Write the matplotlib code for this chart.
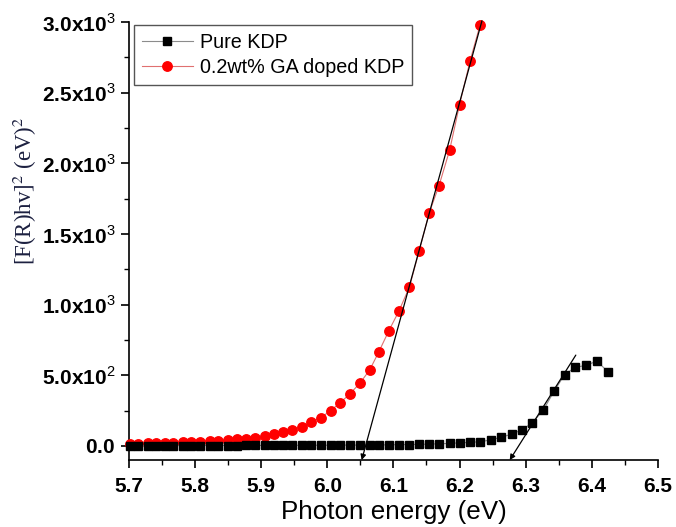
import matplotlib
matplotlib.use('Agg')
import matplotlib.pyplot as plt
from matplotlib.ticker import FixedLocator, MultipleLocator, FuncFormatter

plt.rcParams['font.family'] = ['Liberation Sans', 'DejaVu Sans']
plt.rcParams['mathtext.fontset'] = 'custom'
plt.rcParams['mathtext.rm'] = 'Liberation Sans'
plt.rcParams['mathtext.bf'] = 'Liberation Sans:bold'

# photon energy grid (eV), shared by both samples
energy = [5.701, 5.714, 5.728, 5.741, 5.754, 5.767, 5.781, 5.794, 5.808, 5.822,
          5.835, 5.849, 5.863, 5.877, 5.891, 5.905, 5.919, 5.933, 5.947, 5.962,
          5.976, 5.990, 6.005, 6.019, 6.034, 6.049, 6.064, 6.078, 6.093, 6.108,
          6.124, 6.139, 6.154, 6.169, 6.185, 6.200, 6.216, 6.231, 6.247, 6.263,
          6.279, 6.294, 6.310, 6.327, 6.343, 6.359, 6.375, 6.392, 6.408, 6.425]

# [F(R)hv]^2 for pure KDP (all 50 energies)
pure_kdp = [2, 2, 2, 2, 2, 3, 3, 3, 3, 3,
            3, 3, 3, 4, 4, 4, 4, 4, 4, 5,
            5, 5, 5, 6, 6, 6, 7, 7, 8, 9,
            10, 11, 13, 15, 18, 22, 25, 30, 42, 62,
            83, 113, 163, 255, 387, 504, 556, 571, 601, 523]

# [F(R)hv]^2 for 0.2wt% GA doped KDP (first 38 energies)
doped_kdp = [14, 16, 19, 21, 21, 24, 26, 28, 31, 35,
             38, 42, 47, 52, 59, 68, 82, 97, 116, 137,
             168, 200, 250, 304, 368, 443, 537, 667, 815, 952,
             1122, 1381, 1648, 1843, 2093, 2414, 2727, 2977]

# linear fits extrapolated to the energy axis: (top end), (intercept)
fit_doped = [(6.234, 3010), (6.052, -100)]
fit_pure = [(6.376, 643), (6.276, -100)]

fig = plt.figure(figsize=(6.76, 5.27), dpi=100)
ax = fig.add_axes([0.191, 0.127, 0.782, 0.831])

ax.plot(energy, pure_kdp, color='#8c8c8c', lw=0.8, marker='s', ms=5.6,
        mfc='black', mec='black', label='Pure KDP', clip_on=False, zorder=4)
ax.plot(energy[:len(doped_kdp)], doped_kdp, color='#e07070', lw=0.8, marker='o',
        ms=6.8, mfc='red', mec='red', label='0.2wt% GA doped KDP',
        clip_on=False, zorder=3)

for top, bottom in (fit_doped, fit_pure):
    ax.annotate('', xy=bottom, xytext=top, annotation_clip=False,
                arrowprops=dict(arrowstyle='-|>', color='black', lw=0.9,
                                mutation_scale=8, shrinkA=0, shrinkB=0),
                zorder=5)

ax.set_xlim(5.7, 6.5)
ax.set_ylim(-100, 3000)

for side in ('top', 'right'):
    ax.spines[side].set_visible(False)
for side in ('left', 'bottom'):
    ax.spines[side].set_linewidth(1.2)

ax.xaxis.set_major_locator(MultipleLocator(0.1))
ax.xaxis.set_minor_locator(MultipleLocator(0.05))
ax.yaxis.set_major_locator(FixedLocator([0, 500, 1000, 1500, 2000, 2500, 3000]))
ax.yaxis.set_minor_locator(FixedLocator([250, 750, 1250, 1750, 2250, 2750]))


def y_label_fmt(v, pos):
    if v == 0:
        return r'$\mathbf{0.0}$'
    exp = 3 if v >= 1000 else 2
    return r'$\mathbf{%.1fx10}^{%d}$' % (v / 10 ** exp, exp)


ax.yaxis.set_major_formatter(FuncFormatter(y_label_fmt))
ax.xaxis.set_major_formatter(FuncFormatter(lambda v, p: '%.1f' % v))

ax.tick_params(which='major', direction='out', length=6, width=1.2,
               labelsize=15, pad=4)
ax.tick_params(axis='x', which='major', pad=6)
ax.tick_params(which='minor', direction='out', length=3.5, width=1.0)
for lbl in ax.get_xticklabels():
    lbl.set_fontweight('bold')

ax.set_xlabel('Photon energy (eV)', fontsize=18.7, labelpad=3)
fig.text(0.037, 0.638, r'[F(R)hv]$^2$ (eV)$^2$', rotation=90,
         ha='center', va='center', fontsize=16.5, color='#1c2040',
         family='Liberation Serif', math_fontfamily='stix')

leg = ax.legend(loc='upper left', bbox_to_anchor=(0.009, 0.993),
                borderaxespad=0, fontsize=14.2, handlelength=2.6,
                handletextpad=0.35, borderpad=0.4, labelspacing=0.3,
                fancybox=False, framealpha=1, edgecolor='#555555')
leg.get_frame().set_linewidth(1.0)

fig.savefig('out.png', dpi=100, facecolor='white')
